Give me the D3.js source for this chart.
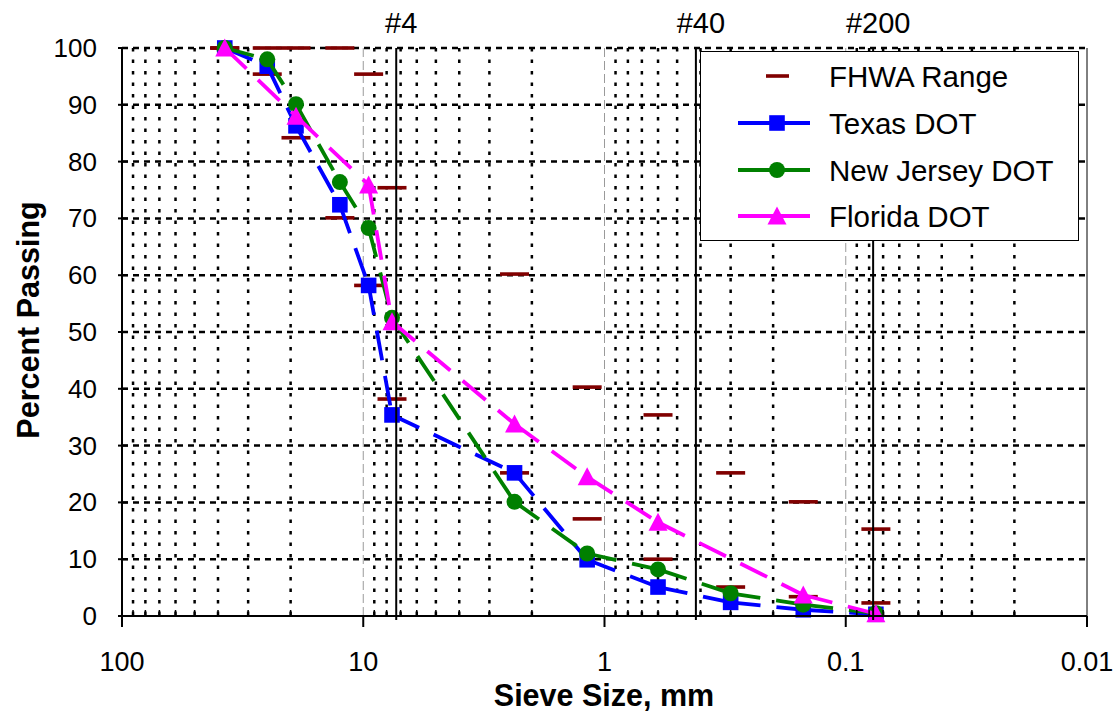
<!DOCTYPE html>
<html>
<head>
<meta charset="utf-8">
<script src="https://cdn.jsdelivr.net/npm/d3@7"></script>
<style>
  html, body { margin: 0; padding: 0; background: #fff; }
  svg { display: block; font-family: "Liberation Sans", Arial, sans-serif; }
</style>
</head>
<body>
<svg id="chart" width="1117" height="713"></svg>
<script>
// ---------------- data ----------------
const sieveSizes   = [37.5, 25, 19, 12.5, 9.5, 7.6, 2.36, 1.18, 0.6, 0.3, 0.15, 0.075];
const fhwaLower    = [100, 95.4, 84.2, 70.1, 58.2, 38.2, 25.2, 17.1, 10.0, 5.1, 3.4, 2.3];
const fhwaUpper    = [100, 100, 100, 100, 95.4, 75.4, 60.2, 40.3, 35.4, 25.2, 20.1, 15.3];
const texasPassing = [100, 96.8, 86.3, 72.4, 58.2, 35.4, 25.2, 9.9, 5.1, 2.4, 1.1, 0.3];
const njPassing    = [100, 98.0, 90.1, 76.4, 68.3, 52.5, 20.1, 11.0, 8.2, 4.0, 2.0, 0.5];
const floridaSizes   = [37.5, 19, 9.5, 7.6, 2.36, 1.18, 0.6, 0.15, 0.075];
const floridaPassing = [100, 88.0, 75.9, 51.8, 33.8, 24.5, 16.5, 3.7, 0.4];
const yTicks = [0, 10, 20, 30, 40, 50, 60, 70, 80, 90, 100];
const xTicks = [100, 10, 1, 0.1, 0.01];
const xTickLabels = ["100", "10", "1", "0.1", "0.01"];
const refLabels = ["#4", "#40", "#200"];
const refSizes  = [7.3, 0.418, 0.077];
const legendNames = ["FHWA Range", "Texas DOT", "New Jersey DOT", "Florida DOT"];

// ---------------- setup ----------------
const svg = d3.select("#chart");
const x = d3.scaleLog().domain([100, 0.01]).range([122, 1087]);
const y = d3.scaleLinear().domain([0, 100]).range([616, 48]);
const pTop = y(100), pBottom = y(0), pLeft = x(100), pRight = x(0.01);

const series = [
  { name: legendNames[1], color: "#0000FF", shape: "square",
    pts: sieveSizes.map((s, i) => [s, texasPassing[i]]) },
  { name: legendNames[2], color: "#008000", shape: "circle",
    pts: sieveSizes.map((s, i) => [s, njPassing[i]]) },
  { name: legendNames[3], color: "#FF00FF", shape: "triangle",
    pts: floridaSizes.map((s, i) => [s, floridaPassing[i]]) }
];

// ---------------- grid ----------------
const allTicks = x.ticks();
const isDecade = v => Math.abs(Math.log10(v) - Math.round(Math.log10(v))) < 1e-9;
const minor = allTicks.filter(v => !isDecade(v));
const innerDecades = allTicks.filter(v => isDecade(v) && v < 100 && v > 0.01);

const grid = svg.append("g");
grid.selectAll("line.vminor").data(minor).join("line")
  .attr("x1", d => x(d)).attr("x2", d => x(d))
  .attr("y1", pTop).attr("y2", pBottom)
  .attr("stroke", "#000").attr("stroke-width", 2.5)
  .attr("stroke-dasharray", "3.5,8");
grid.selectAll("line.vmajor").data(innerDecades).join("line")
  .attr("x1", d => x(d)).attr("x2", d => x(d))
  .attr("y1", pTop).attr("y2", pBottom)
  .attr("stroke", "#9a9a9a").attr("stroke-width", 1)
  .attr("stroke-dasharray", "9,4");
grid.selectAll("line.h").data(yTicks.filter(v => v > 0)).join("line")
  .attr("x1", pLeft).attr("x2", pRight)
  .attr("y1", d => y(d)).attr("y2", d => y(d))
  .attr("stroke", "#000").attr("stroke-width", 2.5)
  .attr("stroke-dasharray", "6,5");

// right frame
svg.append("line").attr("x1", pRight).attr("x2", pRight).attr("y1", pTop).attr("y2", pBottom)
  .attr("stroke", "#000").attr("stroke-width", 1);

// ---------------- FHWA range dashes ----------------
const fh = svg.append("g");
const fhPts = [];
sieveSizes.forEach((s, i) => { fhPts.push([s, fhwaLower[i]]); fhPts.push([s, fhwaUpper[i]]); });
fh.selectAll("rect").data(fhPts).join("rect")
  .attr("x", d => x(d[0]) - 14.5).attr("y", d => y(d[1]) - 1.8)
  .attr("width", 29).attr("height", 3.6)
  .attr("fill", "#800000");

// ---------------- series ----------------
function drawMarker(g, shape, color, cx, cy) {
  if (shape === "square") {
    g.append("rect").attr("x", cx - 7.8).attr("y", cy - 7.8).attr("width", 15.6).attr("height", 15.6)
      .attr("fill", color);
  } else if (shape === "circle") {
    g.append("circle").attr("cx", cx).attr("cy", cy).attr("r", 8).attr("fill", color);
  } else {
    g.append("path").attr("d", `M${cx},${cy - 9.5}L${cx + 9.5},${cy + 8.5}L${cx - 9.5},${cy + 8.5}Z`)
      .attr("fill", color);
  }
}

series.forEach(s => {
  const g = svg.append("g");
  const segs = d3.pairs(s.pts);
  g.selectAll("line").data(segs).join("line")
    .attr("x1", d => x(d[0][0])).attr("y1", d => y(d[0][1]))
    .attr("x2", d => x(d[1][0])).attr("y2", d => y(d[1][1]))
    .attr("stroke", s.color).attr("stroke-width", 3.8)
    .attr("stroke-dasharray", "30,16");
  s.pts.forEach(p => drawMarker(g, s.shape, s.color, x(p[0]), y(p[1])));
});

// ---------------- reference sieve lines ----------------
const ref = svg.append("g");
ref.selectAll("line").data(refSizes).join("line")
  .attr("x1", d => x(d)).attr("x2", d => x(d))
  .attr("y1", pTop).attr("y2", pBottom + 4)
  .attr("stroke", "#000").attr("stroke-width", 2);
ref.selectAll("text").data(refSizes).join("text")
  .attr("x", d => x(d) + 5).attr("y", 33)
  .attr("text-anchor", "middle").attr("font-size", 29).attr("fill", "#000")
  .text((d, i) => refLabels[i]);

// ---------------- axes ----------------
const ax = svg.append("g");
ax.append("line").attr("x1", pLeft).attr("x2", pLeft).attr("y1", pTop).attr("y2", pBottom)
  .attr("stroke", "#000").attr("stroke-width", 2);
ax.append("line").attr("x1", pLeft).attr("x2", pRight).attr("y1", pBottom).attr("y2", pBottom)
  .attr("stroke", "#000").attr("stroke-width", 2);
ax.selectAll("line.yt").data(yTicks).join("line")
  .attr("x1", pLeft - 4).attr("x2", pLeft + 6)
  .attr("y1", d => y(d)).attr("y2", d => y(d))
  .attr("stroke", "#000").attr("stroke-width", 2);
ax.selectAll("text.yl").data(yTicks).join("text")
  .attr("x", 97).attr("y", d => y(d) + 9)
  .attr("text-anchor", "end").attr("font-size", 26).attr("fill", "#000")
  .text(d => d);
ax.selectAll("line.xt").data(xTicks).join("line")
  .attr("x1", d => x(d)).attr("x2", d => x(d))
  .attr("y1", pBottom).attr("y2", pBottom + 11)
  .attr("stroke", "#000").attr("stroke-width", 2);
ax.selectAll("line.xm").data(minor).join("line")
  .attr("x1", d => x(d)).attr("x2", d => x(d))
  .attr("y1", pBottom).attr("y2", pBottom - 6)
  .attr("stroke", "#000").attr("stroke-width", 1.5);
ax.selectAll("text.xl").data(xTicks).join("text")
  .attr("x", d => x(d)).attr("y", 671)
  .attr("text-anchor", "middle").attr("font-size", 27).attr("fill", "#000")
  .text((d, i) => xTickLabels[i]);

svg.append("text").attr("x", 604).attr("y", 706)
  .attr("text-anchor", "middle").attr("font-size", 30.5).attr("font-weight", "bold")
  .text("Sieve Size, mm");
svg.append("text").attr("transform", "translate(39,320) rotate(-90)")
  .attr("text-anchor", "middle").attr("font-size", 30.5).attr("font-weight", "bold")
  .text("Percent Passing");

// ---------------- legend ----------------
const lg = svg.append("g");
lg.append("rect").attr("x", 700.5).attr("y", 51.5).attr("width", 378).attr("height", 189)
  .attr("fill", "#fff").attr("stroke", "#000").attr("stroke-width", 1);
const rowsY = [76, 123, 170, 216];
lg.append("rect").attr("x", 766).attr("y", rowsY[0] - 1.8).attr("width", 23).attr("height", 3.6)
  .attr("fill", "#800000");
series.forEach((s, i) => {
  const yy = rowsY[i + 1];
  lg.append("line").attr("x1", 738).attr("x2", 810).attr("y1", yy).attr("y2", yy)
    .attr("stroke", s.color).attr("stroke-width", 3.8);
  drawMarker(lg, s.shape, s.color, 777, yy);
});
lg.selectAll("text").data(legendNames).join("text")
  .attr("x", 829).attr("y", (d, i) => rowsY[i] + 10.5)
  .attr("font-size", 29.5).attr("fill", "#000")
  .text(d => d);
</script>
</body>
</html>
